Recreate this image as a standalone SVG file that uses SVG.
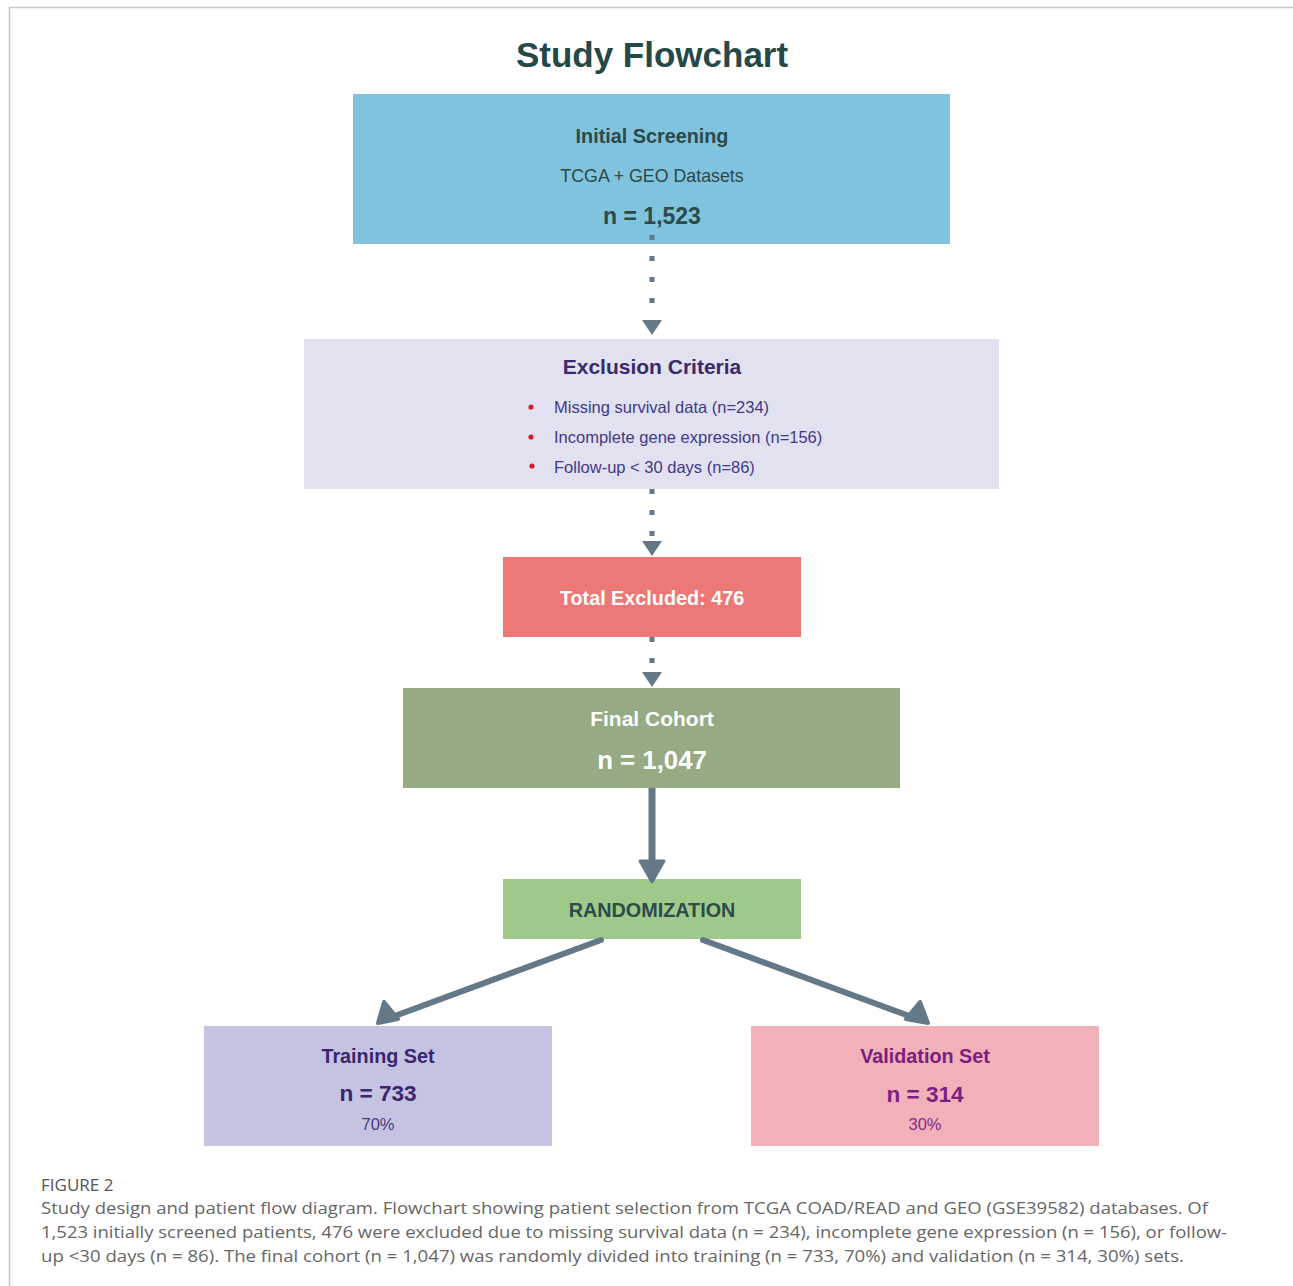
<svg xmlns="http://www.w3.org/2000/svg" width="1293" height="1286" viewBox="0 0 1293 1286">
<defs>
<style>
.t{font-family:"Liberation Sans",Arial,sans-serif;text-anchor:middle}
.b{font-weight:bold}
.cap{font-family:"Open Sans","Liberation Sans",sans-serif;fill:#666;font-size:17px}
.dot{stroke:#667788;stroke-width:5;stroke-dasharray:5 16;fill:none}
.sol{stroke:#647888;fill:none;stroke-linecap:round}
.head{fill:#667788}
</style>
</defs>
<rect width="1293" height="1286" fill="#fff"/>
<path d="M9.5,1286 V7.5 H1293" stroke="#c8c8c8" stroke-width="1.5" fill="none"/>
<text x="652" y="67" class="t b" font-size="35" fill="#264848">Study Flowchart</text>

<g id="n-initial">
<rect x="353" y="94" width="597" height="150" fill="#7fc3de"/>
<text x="652" y="143" class="t b" font-size="19.8" fill="#2d4a4a">Initial Screening</text>
<text x="652" y="182" class="t" font-size="17.8" fill="#2d4a4a">TCGA + GEO Datasets</text>
<text x="652" y="224" class="t b" font-size="23" fill="#2d4a4a">n = 1,523</text>
</g>
<g id="n-exclusion">
<rect x="304" y="339" width="695" height="150" fill="#e2e1f0"/>
<text x="652" y="374" class="t b" font-size="21" fill="#3a2a6c">Exclusion Criteria</text>
<g fill="#d01e2e"><circle cx="531" cy="407" r="2.6"/><circle cx="531" cy="437" r="2.6"/><circle cx="532" cy="466" r="2.6"/></g>
<g font-family="Liberation Sans,Arial,sans-serif" font-size="16.5" fill="#3f3a88">
<text x="554" y="413">Missing survival data (n=234)</text>
<text x="554" y="443">Incomplete gene expression (n=156)</text>
<text x="554" y="473">Follow-up &lt; 30 days (n=86)</text>
</g>
</g>
<g id="n-excluded">
<rect x="503" y="557" width="298" height="80" fill="#ec7877"/>
<text x="652" y="605" class="t b" font-size="19.8" fill="#fff">Total Excluded: 476</text>
</g>
<g id="n-final">
<rect x="403" y="688" width="497" height="100" fill="#96ab84"/>
<text x="652" y="726" class="t b" font-size="21" fill="#fff">Final Cohort</text>
<text x="652" y="769" class="t b" font-size="25.8" fill="#fff">n = 1,047</text>
</g>
<g id="n-random">
<rect x="503" y="879" width="298" height="60" fill="#9fc98a"/>
<text x="652" y="917" class="t b" font-size="19.8" fill="#2d4a4a">RANDOMIZATION</text>
</g>
<g id="n-training">
<rect x="204" y="1026" width="348" height="120" fill="#c4c4e2"/>
<text x="378" y="1063" class="t b" font-size="19.8" fill="#3b2570">Training Set</text>
<text x="378" y="1101" class="t b" font-size="22.6" fill="#3b2570">n = 733</text>
<text x="378" y="1130" class="t" font-size="16.5" fill="#4a3a80">70%</text>
</g>
<g id="n-validation">
<rect x="751" y="1026" width="348" height="120" fill="#f2b0b9"/>
<text x="925" y="1063" class="t b" font-size="19.8" fill="#7b1f7e">Validation Set</text>
<text x="925" y="1102" class="t b" font-size="22.6" fill="#7b1f7e">n = 314</text>
<text x="925" y="1130" class="t" font-size="16.5" fill="#8a2a8a">30%</text>
</g>

<g id="connectors">
<path class="dot" d="M652,235 V319"/>
<path class="head" d="M642,320 L662,320 L652,335 Z"/>
<path class="dot" d="M652,489 V540"/>
<path class="head" d="M642,541 L662,541 L652,556 Z"/>
<path class="dot" d="M652,637 V671"/>
<path class="head" d="M642,672 L662,672 L652,687 Z"/>
<path d="M652,788 V862" stroke="#647888" stroke-width="7"/>
<path d="M640,861 L664,861 L652,882 Z" fill="#647888" stroke="#647888" stroke-width="3" stroke-linejoin="round"/>
<path class="sol" d="M601,940 L392,1017" stroke-width="6"/>
<path d="M378,1023 L384,1002 L398,1019 Z" fill="#647888" stroke="#647888" stroke-width="4" stroke-linejoin="round"/>
<path class="sol" d="M703,940 L912,1017" stroke-width="6"/>
<path d="M928,1023 L920,1002 L906,1019 Z" fill="#647888" stroke="#647888" stroke-width="4" stroke-linejoin="round"/>
</g>

<text x="41" y="1191" font-family="Open Sans,Liberation Sans,sans-serif" font-size="17" fill="#555">FIGURE 2</text>
<text class="cap" x="41" y="1214" textLength="1167" lengthAdjust="spacingAndGlyphs">Study design and patient flow diagram. Flowchart showing patient selection from TCGA COAD/READ and GEO (GSE39582) databases. Of</text>
<text class="cap" x="41" y="1238" textLength="1186" lengthAdjust="spacingAndGlyphs">1,523 initially screened patients, 476 were excluded due to missing survival data (n = 234), incomplete gene expression (n = 156), or follow-</text>
<text class="cap" x="41" y="1262" textLength="1143" lengthAdjust="spacingAndGlyphs">up &lt;30 days (n = 86). The final cohort (n = 1,047) was randomly divided into training (n = 733, 70%) and validation (n = 314, 30%) sets.</text>
</svg>
